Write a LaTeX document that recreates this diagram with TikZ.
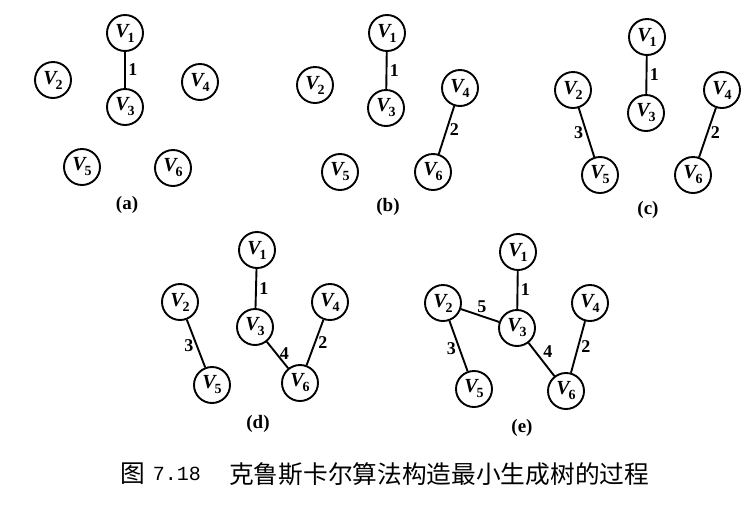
\documentclass[tikz,border=0pt]{standalone}
\usepackage{fontspec}
\setmainfont{Liberation Serif}
\setmonofont{Liberation Mono}
\newfontfamily\cjk{Noto Sans CJK SC}
\newcommand{\vl}[1]{{\bfseries\itshape V}\kern-1pt\raisebox{-0.25em}{\fontsize{14}{14}\selectfont\bfseries #1}}
\begin{document}
\begin{tikzpicture}[x=1pt,y=-1pt,
  vtx/.style={circle,draw,line width=1.9pt,minimum size=36pt,inner sep=0pt,
    font=\fontsize{20}{20}\selectfont},
  edge/.style={line width=1.9pt},
  wt/.style={font=\fontsize{18}{18}\selectfont\bfseries,inner sep=2.5pt},
  panel/.style={font=\fontsize{19}{19}\selectfont\bfseries},
  captxt/.style={font=\cjk\fontsize{24.7}{24.7}\selectfont,inner sep=0pt},
  capnum/.style={font=\ttfamily\fontsize{20}{20}\selectfont,inner sep=0pt}]
\useasboundingbox (0,0) rectangle (755,507);
% panel (a)
\node[vtx] (a1) at (125,33) {\vl{1}};
\node[vtx] (a2) at (53,80) {\vl{2}};
\node[vtx] (a3) at (125,107) {\vl{3}};
\node[vtx] (a4) at (200,82) {\vl{4}};
\node[vtx] (a5) at (82,167) {\vl{5}};
\node[vtx] (a6) at (173,168) {\vl{6}};
\node[panel] (la) at (127,205) {(a)};
\draw[edge] (a1) -- node[wt,right]{1} (a3);
% panel (b)
\node[vtx] (b1) at (387,33) {\vl{1}};
\node[vtx] (b2) at (315,85) {\vl{2}};
\node[vtx] (b3) at (386,108) {\vl{3}};
\node[vtx] (b4) at (460,88) {\vl{4}};
\node[vtx] (b5) at (340,172) {\vl{5}};
\node[vtx] (b6) at (433,172) {\vl{6}};
\node[panel] (lb) at (388,207) {(b)};
\draw[edge] (b1) -- node[wt,right]{1} (b3);
\draw[edge] (b4) -- node[wt,right]{2} (b6);
% panel (c)
\node[vtx] (c1) at (647,37) {\vl{1}};
\node[vtx] (c2) at (573,90) {\vl{2}};
\node[vtx] (c3) at (646,113) {\vl{3}};
\node[vtx] (c4) at (722,90) {\vl{4}};
\node[vtx] (c5) at (600,175) {\vl{5}};
\node[vtx] (c6) at (693,175) {\vl{6}};
\node[panel] (lc) at (648,210) {(c)};
\draw[edge] (c1) -- node[wt,right]{1} (c3);
\draw[edge] (c4) -- node[wt,right]{2} (c6);
\draw[edge] (c2) -- node[wt,left]{3} (c5);
% panel (d)
\node[vtx] (d1) at (257,250) {\vl{1}};
\node[vtx] (d2) at (180,302) {\vl{2}};
\node[vtx] (d3) at (255,327) {\vl{3}};
\node[vtx] (d4) at (330,302) {\vl{4}};
\node[vtx] (d5) at (212,385) {\vl{5}};
\node[vtx] (d6) at (300,383) {\vl{6}};
\node[panel] (ld) at (258,424) {(d)};
\draw[edge] (d1) -- node[wt,right]{1} (d3);
\draw[edge] (d4) -- node[wt,right]{2} (d6);
\draw[edge] (d2) -- node[wt,left,pos=.55]{3} (d5);
\draw[edge] (d3) -- node[wt,right,pos=.45]{4} (d6);
% panel (e)
\node[vtx] (e1) at (518,252) {\vl{1}};
\node[vtx] (e2) at (443,303) {\vl{2}};
\node[vtx] (e3) at (517,328) {\vl{3}};
\node[vtx] (e4) at (590,303) {\vl{4}};
\node[vtx] (e5) at (474,389) {\vl{5}};
\node[vtx] (e6) at (566,391) {\vl{6}};
\node[panel] (le) at (522,428) {(e)};
\draw[edge] (e1) -- node[wt,right]{1} (e3);
\draw[edge] (e4) -- node[wt,right]{2} (e6);
\draw[edge] (e2) -- node[wt,left,pos=.55]{3} (e5);
\draw[edge] (e3) -- node[wt,above right,pos=.5,inner sep=1pt]{4} (e6);
\draw[edge] (e2) -- node[wt,above,pos=.55]{5} (e3);
% caption
\node[captxt] (cfig) at (133,474) {图};
\node[capnum] (cnum) at (177,474) {7.18};
\node[captxt,anchor=west] (ctitle) at (229,474) {克鲁斯卡尔算法构造最小生成树的过程};
\end{tikzpicture}
\end{document}
